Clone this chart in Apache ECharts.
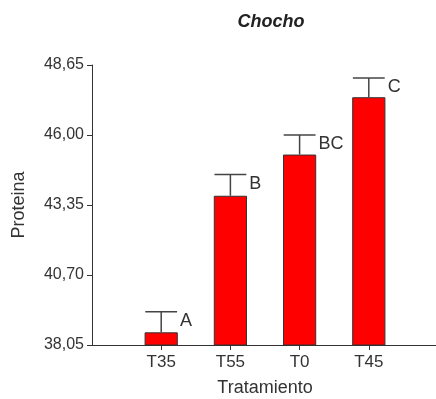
<!DOCTYPE html>
<html><head><meta charset="utf-8">
<script src="https://cdn.jsdelivr.net/npm/echarts@6/dist/echarts.min.js"></script>
<style>html,body{margin:0;padding:0;background:#fff}#c{width:436px;height:399px}</style>
</head><body><div id="c"></div>
<script>
const categories = ['T35', 'T55', 'T0', 'T45'];
const means = [38.53, 43.70, 45.26, 47.43];
const errors = [0.78, 0.80, 0.74, 0.73];
const letters = ['A', 'B', 'BC', 'C'];
const yTicks = [38.05, 40.70, 43.35, 46.00, 48.65];

const axisCats = [''].concat(categories, ['']);
const barData = [null].concat(means, [null]);
const errData = categories.map((c, i) => [i + 1, means[i], means[i] + errors[i], letters[i]]);
const font = 'Liberation Sans, Arial, sans-serif';
const fmt = v => Number(v).toFixed(2).replace('.', ',');

const chart = echarts.init(document.getElementById('c'));
chart.setOption({
  animation: false,
  title: {
    text: 'Chocho', left: 266, top: 8, textAlign: 'center',
    textStyle: { fontFamily: font, fontSize: 18, fontWeight: 'bold', fontStyle: 'italic', color: '#222' }
  },
  grid: { left: 92, right: -2, top: 65, bottom: 54, containLabel: false, outerBoundsMode: 'none' },
  xAxis: {
    type: 'category', data: axisCats, boundaryGap: false,
    name: 'Tratamiento', nameLocation: 'middle', nameGap: 34,
    nameTextStyle: { fontFamily: font, fontSize: 18, color: '#333' },
    axisLine: { lineStyle: { color: '#333', width: 1 } },
    axisTick: { length: 5, interval: (i) => i > 0 && i < axisCats.length - 1, lineStyle: { color: '#333' } },
    axisLabel: { interval: 0, margin: 9, fontFamily: font, fontSize: 17, color: '#333' },
    splitLine: { show: false }
  },
  yAxis: {
    type: 'value', min: yTicks[0], max: yTicks[yTicks.length - 1],
    name: 'Proteina', nameLocation: 'middle', nameGap: 64,
    nameTextStyle: { fontFamily: font, fontSize: 18, color: '#333' },
    axisLine: { show: true, lineStyle: { color: '#333', width: 1 } },
    axisTick: { show: true, length: 5, customValues: yTicks, lineStyle: { color: '#333' } },
    axisLabel: { customValues: yTicks, formatter: fmt, margin: 8, fontFamily: font, fontSize: 16, color: '#333' },
    splitLine: { show: false }
  },
  series: [
    {
      type: 'bar', data: barData, barWidth: '48%',
      itemStyle: { color: '#ff0000', borderColor: '#333', borderWidth: 1 }
    },
    {
      type: 'custom', data: errData, z: 5,
      renderItem: function (params, api) {
        const x = api.value(0);
        const pMean = api.coord([x, api.value(1)]);
        const pTop = api.coord([x, api.value(2)]);
        const half = api.size([1, 0])[0] * 0.46 / 2;
        const st = { stroke: '#444', lineWidth: 1.5 };
        return {
          type: 'group',
          children: [
            { type: 'line', shape: { x1: pMean[0], y1: pMean[1], x2: pTop[0], y2: pTop[1] }, style: st },
            { type: 'line', shape: { x1: pTop[0] - half, y1: pTop[1], x2: pTop[0] + half, y2: pTop[1] }, style: st },
            { type: 'text', x: pTop[0] + half + 3, y: pTop[1] + 9,
              style: { text: errData[params.dataIndex][3], fill: '#333', fontFamily: font, fontSize: 18,
                       verticalAlign: 'middle', align: 'left' } }
          ]
        };
      }
    }
  ]
});
</script></body></html>
